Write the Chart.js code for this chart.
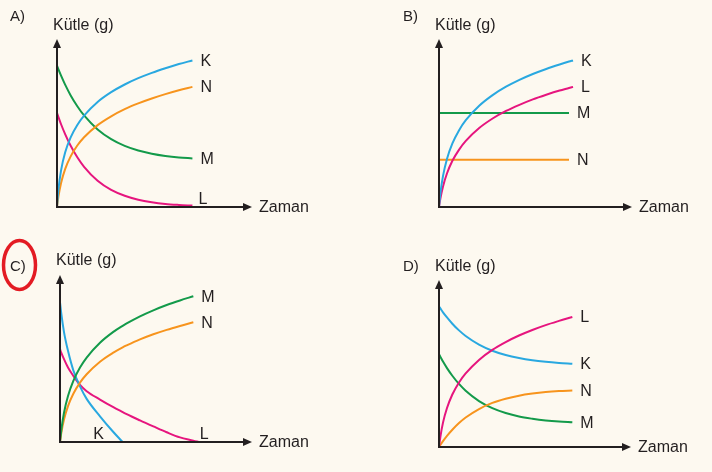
<!DOCTYPE html>
<html>
<head>
<meta charset="utf-8">
<script src="https://cdn.jsdelivr.net/npm/chart.js@4/dist/chart.umd.min.js"></script>
<style>
  html, body { margin:0; padding:0; background:#FDF9F0; }
  #wrap { position:relative; width:712px; height:472px; background:#FDF9F0; overflow:hidden; }
  #wrap canvas { position:absolute; left:0; top:0; }
</style>
</head>
<body>
<div id="wrap">
  <canvas id="pA" width="712" height="472"></canvas>
  <canvas id="pB" width="712" height="472"></canvas>
  <canvas id="pC" width="712" height="472"></canvas>
  <canvas id="pD" width="712" height="472"></canvas>
</div>
<script>
// ---------- DATA (time, mass values) ----------
const xAxisTitle = 'Zaman';
const yAxisTitle = 'Kütle (g)';
const panelLetters = ['A)', 'B)', 'C)', 'D)'];

// Panel A
const tA = [0, 0.1, 0.3, 0.6, 1, 1.5, 2, 3, 4, 5, 6, 7, 8, 9, 10];
const aK = [0, 1.20, 2.62, 3.89, 4.96, 5.86, 6.53, 7.50, 8.20, 8.75, 9.20, 9.58, 9.91, 10.21, 10.47];
const aN = [0, 0.72, 1.72, 2.71, 3.60, 4.39, 4.98, 5.85, 6.48, 6.99, 7.40, 7.75, 8.06, 8.34, 8.58];
const aM = [10.1, 9.85, 9.38, 8.74, 7.99, 7.20, 6.54, 5.54, 4.85, 4.37, 4.04, 3.81, 3.65, 3.54, 3.47];
const aL = [6.72, 6.44, 5.91, 5.21, 4.39, 3.55, 2.87, 1.87, 1.22, 0.80, 0.52, 0.34, 0.22, 0.15, 0.10];

// Panel B
const tB = [0, 0.1, 0.3, 0.6, 1, 1.5, 2, 3, 4, 5, 6, 7, 8, 9, 9.7, 10];
const bK = [0, 0.95, 2.22, 3.45, 4.54, 5.49, 6.20, 7.23, 7.99, 8.59, 9.08, 9.50, 9.86, 10.18, 10.39, 10.47];
const bL = [0, 0.59, 1.47, 2.41, 3.30, 4.10, 4.72, 5.64, 6.32, 6.86, 7.30, 7.69, 8.02, 8.32, 8.50, 8.58];
const bM = [6.72, 6.72, 6.72, 6.72, 6.72, 6.72, 6.72, 6.72, 6.72, 6.72, 6.72, 6.72, 6.72, 6.72, 6.72, null];
const bN = [3.37, 3.37, 3.37, 3.37, 3.37, 3.37, 3.37, 3.37, 3.37, 3.37, 3.37, 3.37, 3.37, 3.37, 3.37, null];

// Panel C
const tC = [0, 0.1, 0.3, 0.6, 1, 1.5, 2, 3, 4, 4.7, 5, 6, 7, 8, 9, 10, 10.4];
const cM = [0, 0.88, 2.10, 3.30, 4.39, 5.35, 6.07, 7.13, 7.91, 8.35, 8.52, 9.03, 9.46, 9.84, 10.17, 10.47, null];
const cN = [0, 0.66, 1.61, 2.58, 3.47, 4.27, 4.87, 5.77, 6.42, 6.80, 6.94, 7.37, 7.74, 8.06, 8.34, 8.60, null];
const cK = [10.06, 9.20, 7.90, 6.55, 5.15, 4.00, 3.10, 1.85, 0.72, 0, null, null, null, null, null, null, null];
const cL = [6.67, 6.40, 5.95, 5.35, 4.75, 4.10, 3.65, 3.05, 2.50, 2.15, 2.00, 1.55, 1.12, 0.70, 0.33, 0.10, 0];

// Panel D
const tD = [0, 0.1, 0.3, 0.6, 1, 1.5, 2, 3, 4, 5, 6, 7, 8, 9, 10];
const dL = [0, 0.71, 1.75, 2.80, 3.77, 4.64, 5.29, 6.26, 6.98, 7.54, 8.01, 8.41, 8.76, 9.06, 9.34];
const dK = [10.1, 9.96, 9.68, 9.31, 8.86, 8.38, 7.98, 7.36, 6.92, 6.61, 6.39, 6.23, 6.12, 6.04, 5.98];
const dN = [0, 0.14, 0.42, 0.80, 1.24, 1.72, 2.12, 2.73, 3.17, 3.47, 3.69, 3.84, 3.95, 4.02, 4.06];
const dM = [6.67, 6.49, 6.14, 5.67, 5.12, 4.53, 4.04, 3.30, 2.79, 2.44, 2.19, 2.03, 1.91, 1.83, 1.78];

// ---------- STYLE / LAYOUT ----------
const seriesColors = { K: '#29A8E0', L: '#E6157E', M: '#139A4A', N: '#F7941D' };
const ink = '#231F20';
const fontFam = '"Liberation Sans", Arial, Helvetica, sans-serif';
const X_MAX = 14.4, Y_MAX = 12;

const panels = [
  { id: 'pA', box: { left: 57, bottom: 207, right: 252, top: 39 }, letter: panelLetters[0], letterPos: [10, 17], titleDy: -13,
    t: tA, series: [['K', aK], ['N', aN], ['M', aM], ['L', aL]], labelStyle: { L: { dx: 6 } } },
  { id: 'pB', box: { left: 439, bottom: 207, right: 632, top: 39 }, letter: panelLetters[1], letterPos: [403, 17], titleDy: -13,
    t: tB, series: [['K', bK], ['L', bL], ['M', bM], ['N', bN]], labelStyle: {} },
  { id: 'pC', box: { left: 60, bottom: 442, right: 252, top: 275 }, letter: panelLetters[2], letterPos: [10, 267], titleDy: -14, circle: true,
    t: tC, series: [['M', cM], ['N', cN], ['K', cK], ['L', cL]], labelStyle: { K: { dx: -24, dy: 0, align: 'center' }, L: { dx: 1 } } },
  { id: 'pD', box: { left: 439, bottom: 447, right: 631, top: 280 }, letter: panelLetters[3], letterPos: [403, 267], titleDy: -13, titleY: 267,
    t: tD, series: [['L', dL], ['K', dK], ['N', dN], ['M', dM]], labelStyle: {} },
];

function arrowHead(ctx, x, y, dir) {
  const L = 9, W = 4;
  ctx.beginPath();
  if (dir === 'up') { ctx.moveTo(x, y); ctx.lineTo(x - W, y + L); ctx.lineTo(x + W, y + L); }
  else { ctx.moveTo(x, y); ctx.lineTo(x - L, y - W); ctx.lineTo(x - L, y + W); }
  ctx.closePath();
  ctx.fill();
}

function makePanel(p) {
  const datasets = p.series.map(([name, vals]) => ({
    label: name,
    data: p.t.map((x, i) => vals[i] == null ? null : { x: x, y: vals[i] }).filter(Boolean),
    borderColor: seriesColors[name],
    borderWidth: 2,
    pointRadius: 0,
    fill: false,
    cubicInterpolationMode: 'monotone',
    clip: 3
  }));

  const decor = {
    id: 'decor',
    afterDatasetsDraw(chart) {
      const ctx = chart.ctx;
      const xs = chart.scales.x, ys = chart.scales.y;
      const ox = xs.getPixelForValue(0), oy = ys.getPixelForValue(0);
      const tx = xs.getPixelForValue(X_MAX), ty = ys.getPixelForValue(Y_MAX);
      ctx.save();
      ctx.strokeStyle = ink; ctx.fillStyle = ink; ctx.lineWidth = 2;
      ctx.beginPath(); ctx.moveTo(ox, oy + 1); ctx.lineTo(ox, ty + 6); ctx.stroke();
      ctx.beginPath(); ctx.moveTo(ox - 1, oy); ctx.lineTo(tx - 6, oy); ctx.stroke();
      arrowHead(ctx, ox, ty, 'up');
      arrowHead(ctx, tx, oy, 'right');
      ctx.font = '16px ' + fontFam;
      ctx.textBaseline = 'middle';
      ctx.textAlign = 'left';
      ctx.fillText(xAxisTitle, tx + 7, oy + 1);
      ctx.fillText(yAxisTitle, ox - 4, p.titleY != null ? p.titleY : ty + p.titleDy);
      ctx.font = '15px ' + fontFam;
      ctx.fillText(p.letter, p.letterPos[0], p.letterPos[1]);
      ctx.font = '16px ' + fontFam;
      chart.data.datasets.forEach((ds, i) => {
        const meta = chart.getDatasetMeta(i);
        const last = meta.data[meta.data.length - 1];
        const st = p.labelStyle[ds.label] || {};
        const x = last.x + (st.dx != null ? st.dx : 8);
        const y = Math.min(last.y, oy - 8) + (st.dy || 0);
        ctx.textAlign = st.align || 'left';
        ctx.fillText(ds.label, x, y + 1);
      });
      if (p.circle) {
        ctx.strokeStyle = '#E31B23';
        ctx.lineWidth = 3.5;
        ctx.beginPath();
        ctx.ellipse(p.letterPos[0] + 9.5, p.letterPos[1] - 2, 16, 24.5, 0, 0, Math.PI * 2);
        ctx.stroke();
      }
      ctx.restore();
    }
  };

  new Chart(document.getElementById(p.id), {
    type: 'line',
    data: { datasets },
    options: {
      responsive: false,
      animation: false,
      devicePixelRatio: 1,
      events: [],
      layout: { padding: { left: p.box.left, top: p.box.top, right: 712 - p.box.right, bottom: 472 - p.box.bottom } },
      plugins: { legend: { display: false }, tooltip: { enabled: false }, title: { display: false } },
      scales: {
        x: { type: 'linear', min: 0, max: X_MAX, display: false },
        y: { type: 'linear', min: 0, max: Y_MAX, display: false }
      }
    },
    plugins: [decor]
  });
}

panels.forEach(makePanel);
</script>
</body>
</html>
